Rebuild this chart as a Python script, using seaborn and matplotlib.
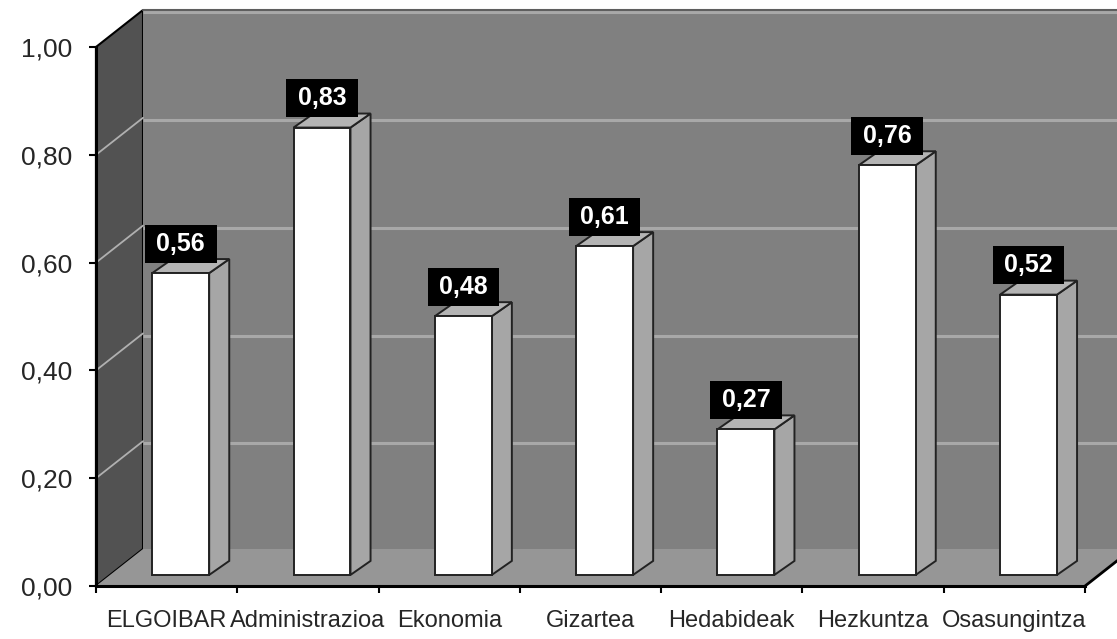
import matplotlib
matplotlib.use("Agg")
import matplotlib.pyplot as plt
import seaborn as sns
import pandas as pd
from matplotlib.patches import Polygon
from matplotlib.path import Path
from matplotlib.ticker import FixedLocator

categories = ["ELGOIBAR", "Administrazioa", "Ekonomia", "Gizartea",
              "Hedabideak", "Hezkuntza", "Osasungintza"]
values = [0.56, 0.83, 0.48, 0.61, 0.27, 0.76, 0.52]
y_ticks = [0.0, 0.2, 0.4, 0.6, 0.8, 1.0]
y_tick_labels = ["0,00", "0,20", "0,40", "0,60", "0,80", "1,00"]

sns.set_theme(style="white")
plt.rcParams["font.family"] = ["Liberation Sans", "DejaVu Sans"]

df = pd.DataFrame({"category": categories, "value": values})

# fake 3d depth (Excel look)
wall_dx, wall_dy = 0.333, 0.0687
bar_front = 0.3
bar_dx, bar_dy = 0.142, 0.026


def label_box(x0, y0, width, height, mutation_size):
    # wide, flat box like the Excel data labels
    px, py = 0.46 * mutation_size, 0.28 * mutation_size
    x0, y0 = x0 - px, y0 - py
    x1, y1 = x0 + width + 2 * px, y0 + height + 2 * py
    return Path([(x0, y0), (x1, y0), (x1, y1), (x0, y1), (x0, y0)], closed=True)


fig = plt.figure(figsize=(11.17, 6.39), dpi=100)
ax = fig.add_axes([0.0859, 0.0829, 0.8855, 0.8435])
ax.set_facecolor("none")

sns.barplot(data=df, x="category", y="value", color="white", width=0.403,
            edgecolor="#222222", linewidth=1.4, errorbar=None, ax=ax, zorder=3)
bars = list(ax.patches)

n = len(categories)
x0, x1 = -0.5, n - 0.5
ax.set_xlim(x0, x1)
ax.set_ylim(0, 1)

# walls and floor
wall_kw = dict(clip_on=False, transform=ax.transData)
ax.add_patch(Polygon([(x0, 0), (x0, 1), (x0 + wall_dx, 1 + wall_dy), (x0 + wall_dx, wall_dy)],
                     fc="#525252", ec="black", lw=1.5, zorder=0.5, **wall_kw))
ax.add_patch(Polygon([(x0 + wall_dx, wall_dy), (x1 + wall_dx, wall_dy),
                      (x1 + wall_dx, 1 + wall_dy), (x0 + wall_dx, 1 + wall_dy)],
                     fc="#808080", ec="none", zorder=0.5, **wall_kw))
ax.plot([x0 + wall_dx, x1 + wall_dx], [1 + wall_dy, 1 + wall_dy], color="#5e5e5e",
        lw=1.5, clip_on=False, zorder=0.8)
for v in y_ticks:
    ax.plot([x0 + wall_dx, x1 + wall_dx], [v + wall_dy - 0.004, v + wall_dy - 0.004],
            color="#a8a8a8", lw=2.2, clip_on=False, zorder=0.6, solid_capstyle="butt")
    if 0 < v < 1:
        ax.plot([x0, x0 + wall_dx], [v, v + wall_dy], color="#b0b0b0", lw=1.3,
                clip_on=False, zorder=0.6)
ax.add_patch(Polygon([(x0, 0), (x1, 0), (x1 + wall_dx, wall_dy), (x0 + wall_dx, wall_dy)],
                     fc="#969696", ec="none", zorder=0.7, **wall_kw))
ax.plot([x1, x1 + wall_dx], [0, wall_dy], color="black", lw=2, clip_on=False, zorder=0.8)

# move bars back into the depth and add side / top faces
for p, v in zip(bars, values):
    p.set_x(p.get_x() + bar_front * wall_dx)
    p.set_y(bar_front * wall_dy)
    bx0 = p.get_x()
    bx1 = bx0 + p.get_width()
    by0 = p.get_y()
    by1 = by0 + p.get_height()
    ax.add_patch(Polygon([(bx1, by0), (bx1, by1), (bx1 + bar_dx, by1 + bar_dy), (bx1 + bar_dx, by0 + bar_dy)],
                         fc="#a6a6a6", ec="#222222", lw=1.4, zorder=2.9, clip_on=False))
    ax.add_patch(Polygon([(bx0, by1), (bx1, by1), (bx1 + bar_dx, by1 + bar_dy), (bx0 + bar_dx, by1 + bar_dy)],
                         fc="#b4b4b4", ec="#222222", lw=1.4, zorder=2.9, clip_on=False))
    ax.annotate(f"{v:.2f}".replace(".", ","), xy=(bx0 + p.get_width() / 2, by1),
                xytext=(0, 21), textcoords="offset points", ha="center", va="center",
                color="white", fontsize=18, fontweight="bold", zorder=5,
                bbox=dict(boxstyle=label_box, fc="black", ec="none"))

# axes
for s in ["top", "right"]:
    ax.spines[s].set_visible(False)
for s in ["left", "bottom"]:
    ax.spines[s].set_color("black")
    ax.spines[s].set_linewidth(2.2)
    ax.spines[s].set_zorder(4)

ax.set_yticks(y_ticks)
ax.set_yticklabels(y_tick_labels)
ax.tick_params(axis="y", which="major", direction="out", length=5, width=1.5,
               color="black", pad=12, labelsize=19, left=True)
ax.xaxis.set_minor_locator(FixedLocator([i - 0.5 for i in range(n + 1)]))
ax.tick_params(axis="x", which="major", length=0, pad=17, labelsize=17)
ax.tick_params(axis="x", which="minor", direction="out", length=5, width=1.5,
               color="black", bottom=True)
ax.set_xlabel("")
ax.set_ylabel("")

fig.savefig("out.png", dpi=100)
